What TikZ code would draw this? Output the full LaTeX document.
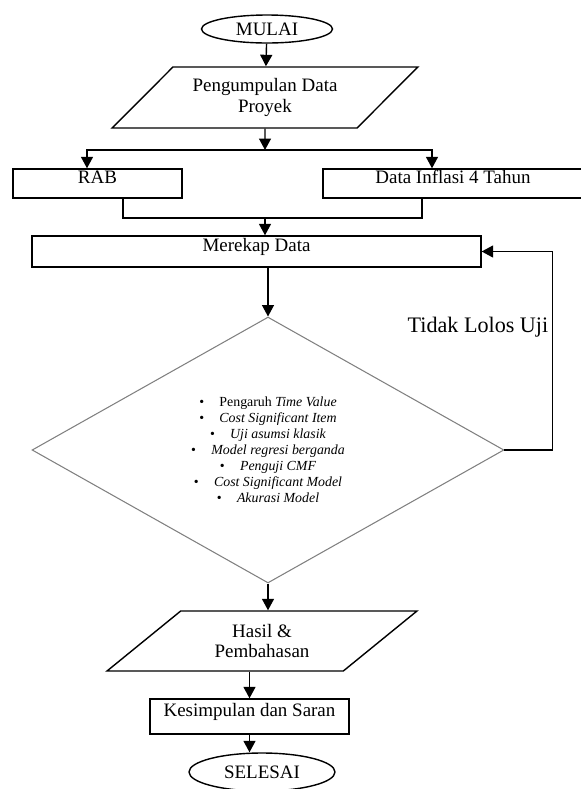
\documentclass[tikz,border=0pt]{standalone}
\usepackage{fontspec}
\setmainfont{Liberation Serif}
\usetikzlibrary{shapes.geometric,arrows.meta}
\newcommand{\butir}{\textbullet\hspace{1.1em}}

\begin{document}
\begin{tikzpicture}[x=0.02cm, y=-0.02cm,
    font=\fontsize{10.8}{11.5}\selectfont, line width=0.8pt,
    >={Triangle[length=2.3mm,width=2.4mm]},
    terminal/.style={ellipse, draw, inner sep=0pt},
    proses/.style={rectangle, draw, inner ysep=0pt, text height=8pt, text depth=8pt},
    dataio/.style={trapezium, trapezium left angle=38, trapezium right angle=142, trapezium stretches, draw, inner sep=0pt, align=center},
    keputusan/.style={diamond, draw=gray, line width=0.6pt, inner sep=0pt, align=center, font=\fontsize{7.9}{9.1}\selectfont}]
        \useasboundingbox (0,0) rectangle (581,789);
        % Nodes
        \node (mulai) [terminal, minimum width=2.62cm, minimum height=0.56cm] at (267, 29) {MULAI};
        \node (pengumpulan) [dataio, minimum width=6.12cm, minimum height=1.22cm] at (265, 97.5) {Pengumpulan Data\\Proyek};
        \coordinate (cabang) at (265, 150);
        \node (rab) [proses, minimum width=3.38cm, minimum height=0.58cm] at (97.5, 183.5) {RAB};
        \node (inflasi) [proses, minimum width=5.2cm, minimum height=0.58cm] at (453, 183.5) {Data Inflasi 4 Tahun};
        \coordinate (gabung) at (265, 218);
        \node (merekap) [proses, minimum width=8.98cm, minimum height=0.62cm] at (256.5, 251.5) {Merekap Data};
        \node (uji) [keputusan, minimum width=9.44cm, minimum height=5.32cm] at (268, 450) {\butir Pengaruh \textit{Time Value}\\
            \butir\textit{Cost Significant Item}\\
            \butir\textit{Uji asumsi klasik}\\
            \butir\textit{Model regresi berganda}\\
            \butir\textit{Penguji CMF}\\
            \butir\textit{Cost Significant Model}\\
            \butir\textit{Akurasi Model}};
        \node (hasil) [dataio, minimum width=6.2cm, minimum height=1.2cm] at (262, 641) {Hasil \&\\Pembahasan};
        \node (kesimpulan) [proses, minimum width=3.98cm, minimum height=0.7cm] at (249.5, 716.5) {Kesimpulan dan Saran};
        \node (selesai) [terminal, minimum width=2.92cm, minimum height=0.76cm] at (262, 772) {SELESAI};
        % Arrow
        \draw[->] (mulai) -- (pengumpulan);
        \draw[->] (pengumpulan) -- (cabang);
        \draw[->] (cabang) -| ([xshift=-0.21cm]rab.north);
        \draw[->] (cabang) -| ([xshift=-0.42cm]inflasi.north);
        \draw ([xshift=0.51cm]rab.south) |- (gabung) -| ([xshift=-0.62cm]inflasi.south);
        \draw[->] (gabung) -- (gabung |- merekap.north);
        \draw[->] (uji.north |- merekap.south) -- (uji);
        \draw[->] (uji.east) -- ++(48, 0) |- (merekap.east) node[pos=0.31, left, inner sep=2pt, font=\fontsize{12.6}{14}\selectfont] {Tidak Lolos Uji};
        \draw[->] (uji.south) -- (uji.south |- hasil.north);
        \draw[->] (kesimpulan.north |- hasil.south) -- (kesimpulan.north);
        \draw[->] (kesimpulan.south) -- (kesimpulan.south |- selesai.north);
      \end{tikzpicture}
\end{document}
